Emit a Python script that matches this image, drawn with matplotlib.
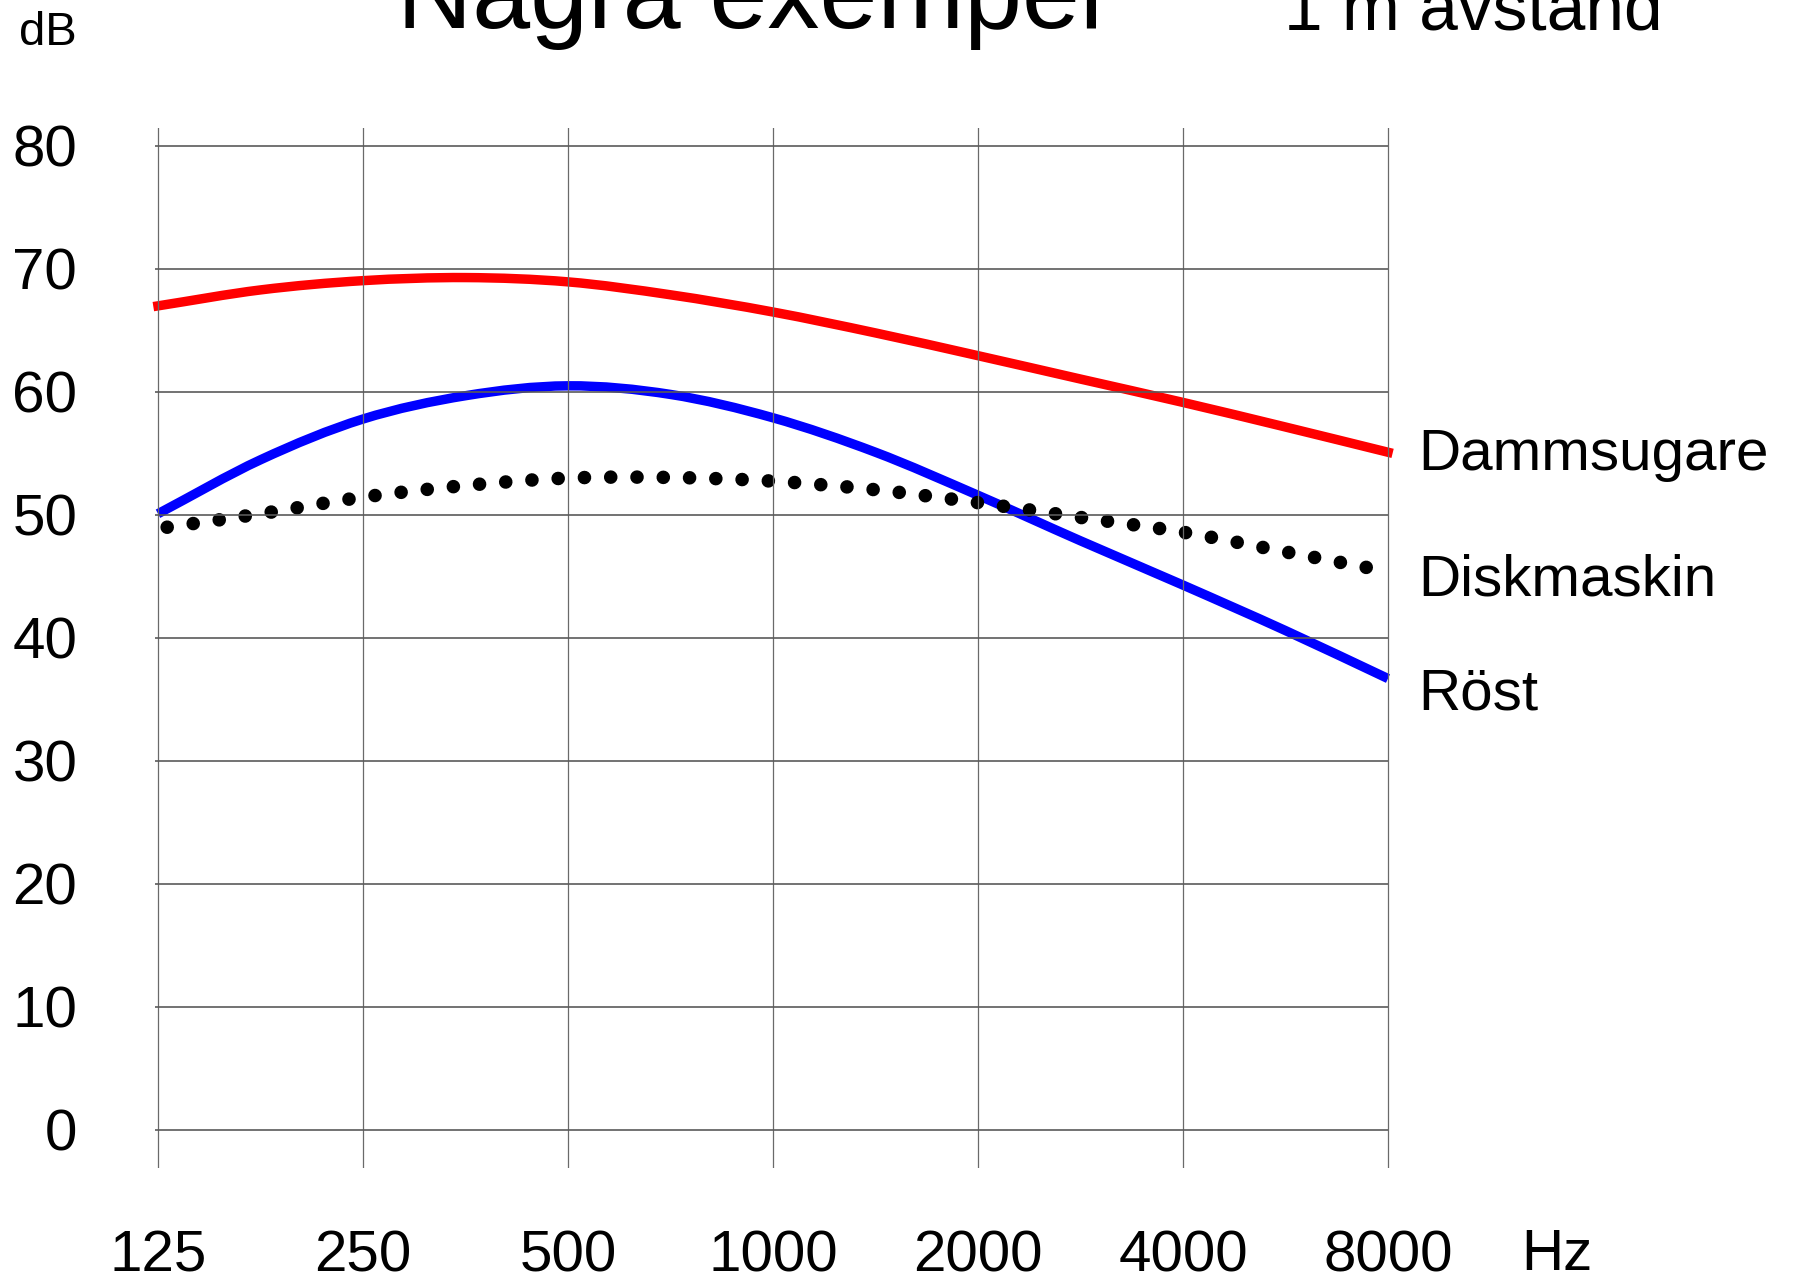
import matplotlib
matplotlib.use("Agg")
import matplotlib.pyplot as plt
import numpy as np
from matplotlib.ticker import NullLocator
from matplotlib.path import Path
from matplotlib.patches import PathPatch

plt.rcParams['font.family'] = ['Liberation Sans', 'DejaVu Sans']

# frequencies (Hz), half-octave steps
freq = [125, 177, 250, 354, 500, 707, 1000, 1414, 2000, 2828, 4000, 5657, 8000]
# levels in dB at 1 m
dammsugare = [67.0, 68.3, 69.05, 69.3, 68.95, 67.9, 66.5, 64.8, 62.95, 61.05, 59.15, 57.15, 55.1]
rost = [50.1, 54.5, 57.8, 59.7, 60.5, 59.8, 57.9, 55.1, 51.6, 47.9, 44.3, 40.6, 36.7]
diskmaskin = [48.9, 50.1, 51.45, 52.4, 53.0, 53.05, 52.75, 52.05, 51.0, 49.8, 48.6, 47.0, 45.4]

x_ticks = [125, 250, 500, 1000, 2000, 4000, 8000]
y_ticks = [0, 10, 20, 30, 40, 50, 60, 70, 80]


def smooth_path(f, v):
    # catmull-rom through the points, done in log2(f) so it bends like the chart
    pts = np.column_stack([np.log2(f), v])
    ext = np.vstack([2 * pts[0] - pts[1], pts, 2 * pts[-1] - pts[-2]])
    verts = [pts[0]]
    codes = [Path.MOVETO]
    for i in range(len(pts) - 1):
        p0, p1, p2, p3 = ext[i], ext[i + 1], ext[i + 2], ext[i + 3]
        verts += [p1 + (p2 - p0) / 6, p2 - (p3 - p1) / 6, p2]
        codes += [Path.CURVE4] * 3
    verts = np.array(verts)
    verts[:, 0] = 2 ** verts[:, 0]
    return Path(verts, codes)


W, H = 1799, 1276
fig = plt.figure(figsize=(W / 100, H / 100), dpi=100)
ax = fig.add_axes([155 / W, (H - 1168) / H, (1390 - 155) / W, (1168 - 128) / H])

ax.set_xscale('log', base=2)
ax.set_xlim(125 * 2 ** (-3 / 205), 8000 * 2 ** (2 / 205))
ax.set_ylim(-3.09, 81.46)
for s in ax.spines.values():
    s.set_visible(False)

ax.set_xticks(x_ticks)
ax.set_xticklabels([str(v) for v in x_ticks])
ax.xaxis.set_minor_locator(NullLocator())
ax.set_yticks(y_ticks)
ax.set_yticklabels([str(v) for v in y_ticks])
ax.tick_params(axis='both', length=0, labelsize=42)
ax.tick_params(axis='y', pad=56)
ax.tick_params(axis='x', pad=44)

ax.grid(axis='x', color='#6a6a6a', lw=0.9)
ax.hlines(y_ticks, 125 * 2 ** (-3 / 205), 8000, color='#5a5a5a', lw=1.2)

ax.add_patch(PathPatch(smooth_path(freq, dammsugare), fill=False, edgecolor='#ff0000',
                       lw=6.8, capstyle='projecting', clip_on=False))
ax.add_patch(PathPatch(smooth_path(freq, rost), fill=False, edgecolor='#0000ff',
                       lw=6.8, capstyle='butt', clip_on=False))
ax.add_patch(PathPatch(smooth_path(freq, diskmaskin), fill=False, edgecolor='black',
                       lw=9.8, linestyle=(1.25, (0.001, 1.93)), capstyle='round', clip_on=False))

# labels at the right
fig.text(1418 / W, 1 - 470 / H, 'Dammsugare', fontsize=42, va='baseline', ha='left')
fig.text(1418 / W, 1 - 595 / H, 'Diskmaskin', fontsize=42, va='baseline', ha='left')
fig.text(1418 / W, 1 - 710 / H, 'Röst', fontsize=42, va='baseline', ha='left')

fig.text(1557 / W, 1 - 1270 / H, 'Hz', fontsize=42, va='baseline', ha='center')
fig.text(19 / W, 1 - 45 / H, 'dB', fontsize=34, va='baseline', ha='left')

fig.text(397 / W, 1 - 28 / H, 'Några exempel', fontsize=75, va='baseline', ha='left')
fig.text(1284 / W, 1 - 29 / H, '1 m avstånd', fontsize=50, va='baseline', ha='left')

fig.savefig('out.png', dpi=100)
